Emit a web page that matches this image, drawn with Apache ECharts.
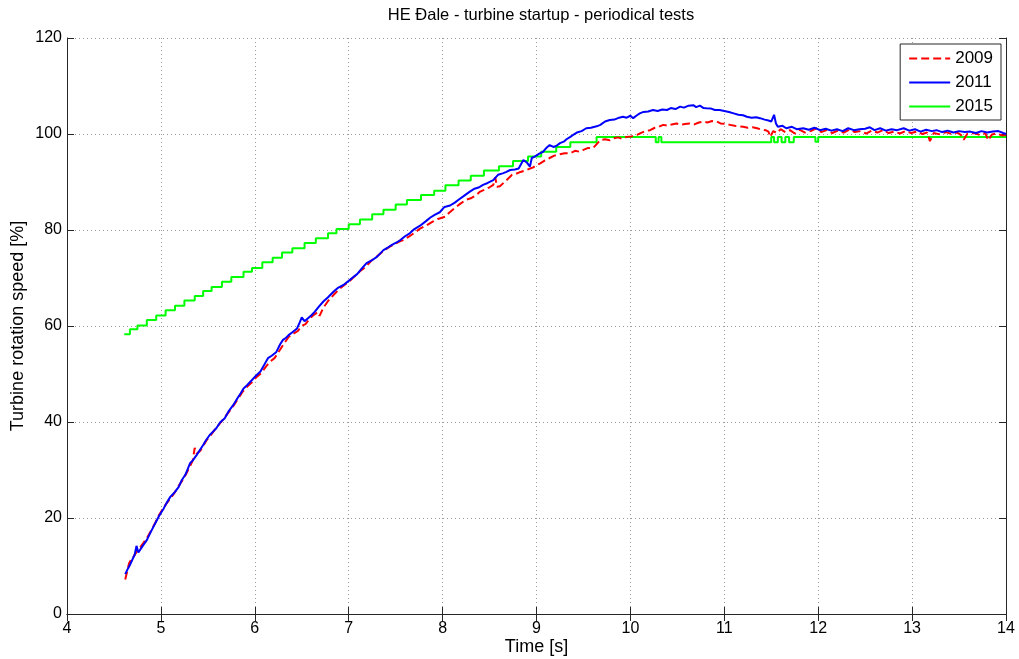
<!DOCTYPE html>
<html>
<head>
<meta charset="utf-8">
<script src="https://cdn.jsdelivr.net/npm/echarts@6/dist/echarts.min.js"></script>
<style>
html,body{margin:0;padding:0;background:#fff;}
#chart{width:1019px;height:659px;}
</style>
</head>
<body>
<div id="chart"></div>
<script>
const titleText = 'HE Đale - turbine startup - periodical tests';
const xName = 'Time [s]';
const yName = 'Turbine rotation speed [%]';
const seriesNames = ['2009', '2011', '2015'];

// 2009 test (red dashed): [time s, speed %]
const data2009 = [
[4.62,7.2],[4.64,8.8],[4.66,10.5],[4.68,11.2],[4.71,12.0],[4.75,13.2],[4.78,13.9],[4.81,14.7],[4.85,15.8],[4.89,17.2],
[4.94,19.0],[4.98,20.6],[5.03,22.2],[5.07,23.3],[5.11,24.3],[5.15,25.4],[5.19,26.7],[5.23,27.9],[5.27,29.2],[5.31,30.8],
[5.34,32.0],[5.36,34.6],[5.38,33.4],[5.42,34.0],[5.45,35.0],[5.49,36.3],[5.53,37.2],[5.57,38.3],[5.62,39.5],[5.67,40.7],
[5.72,42.0],[5.77,43.3],[5.82,44.8],[5.87,46.3],[5.92,47.4],[5.97,48.3],[6.02,49.4],[6.07,50.2],[6.12,51.6],[6.17,52.7],
[6.21,53.3],[6.23,53.0],[6.26,54.8],[6.31,56.3],[6.36,57.7],[6.41,58.4],[6.46,59.0],[6.50,60.0],[6.54,60.4],[6.58,61.4],
[6.62,62.2],[6.67,62.9],[6.69,62.1],[6.73,63.8],[6.78,65.2],[6.84,66.5],[6.90,67.7],[6.95,68.5],[7.00,69.2],[7.06,70.3],
[7.12,71.4],[7.18,72.3],[7.24,73.6],[7.30,74.5],[7.36,75.5],[7.42,76.3],[7.48,77.0],[7.54,77.6],[7.58,77.9],[7.64,78.6],
[7.70,79.4],[7.76,80.3],[7.83,81.0],[7.89,81.7],[7.95,82.3],[8.03,82.8],[8.07,83.6],[8.13,84.6],[8.19,85.5],[8.25,86.3],
[8.30,86.6],[8.36,87.3],[8.40,88.0],[8.45,88.4],[8.50,88.9],[8.54,89.4],[8.56,91.0],[8.58,89.0],[8.61,89.1],[8.67,90.2],
[8.74,91.5],[8.78,91.7],[8.83,92.1],[8.88,92.4],[8.93,92.8],[8.96,93.0],[9.00,93.5],[9.04,93.9],[9.09,94.5],[9.14,95.0],
[9.19,95.5],[9.25,95.8],[9.30,96.0],[9.36,96.0],[9.41,96.5],[9.46,96.3],[9.50,96.7],[9.55,97.1],[9.60,97.0],[9.62,97.4],
[9.66,98.3],[9.68,98.75],[9.73,98.9],[9.78,98.7],[9.82,99.1],[9.87,99.3],[9.91,99.0],[9.96,99.4],[10.01,99.5],[10.07,99.8],
[10.12,100.3],[10.16,100.6],[10.21,100.8],[10.26,101.3],[10.30,101.5],[10.35,101.9],[10.40,101.7],[10.44,102.0],[10.49,102.2],[10.54,101.9],
[10.58,102.1],[10.63,102.2],[10.68,102.0],[10.73,102.4],[10.78,102.6],[10.82,102.4],[10.87,102.7],[10.92,102.6],[10.96,102.2],[11.01,102.1],
[11.06,101.9],[11.11,101.7],[11.16,101.6],[11.20,101.5],[11.25,101.3],[11.30,101.4],[11.35,101.2],[11.40,100.9],[11.44,100.8],[11.47,100.5],
[11.49,99.4],[11.52,100.6],[11.56,100.2],[11.60,101.0],[11.65,100.4],[11.70,100.8],[11.75,100.1],[11.80,100.9],[11.86,100.3],[11.92,100.6],
[11.98,101.2],[12.03,100.4],[12.09,100.8],[12.15,100.2],[12.21,100.7],[12.27,100.3],[12.33,100.9],[12.39,100.4],[12.45,100.6],[12.51,100.1],
[12.57,100.7],[12.63,100.3],[12.69,100.8],[12.75,100.2],[12.81,100.5],[12.87,100.1],[12.93,100.6],[12.99,100.2],[13.05,100.5],[13.11,100.0],
[13.16,100.3],[13.19,98.5],[13.23,100.2],[13.30,99.9],[13.36,100.4],[13.42,100.0],[13.48,100.3],[13.52,99.8],[13.55,98.8],[13.59,100.1],
[13.66,100.2],[13.72,99.8],[13.78,100.2],[13.81,98.7],[13.85,99.9],[13.90,100.1],[13.96,99.7],[14.00,99.8]
];

// 2011 test (blue solid)
const data2011 = [
[4.62,8.3],[4.65,9.5],[4.67,10.2],[4.70,11.5],[4.72,12.3],[4.74,14.2],[4.76,12.8],[4.78,13.2],[4.81,14.3],[4.85,15.4],
[4.89,17.0],[4.94,18.9],[4.98,20.4],[5.03,22.0],[5.06,23.1],[5.10,24.4],[5.14,25.2],[5.19,26.5],[5.22,27.8],[5.26,29.0],
[5.31,31.4],[5.34,32.0],[5.38,33.1],[5.41,34.0],[5.45,35.2],[5.48,36.2],[5.52,37.3],[5.55,37.9],[5.59,38.7],[5.63,39.9],
[5.68,40.8],[5.72,42.2],[5.77,43.5],[5.82,45.1],[5.85,46.0],[5.88,47.0],[5.92,47.7],[5.97,48.75],[6.01,49.6],[6.06,50.5],
[6.10,51.9],[6.14,53.3],[6.18,53.8],[6.23,54.6],[6.27,56.2],[6.30,57.1],[6.33,57.5],[6.36,58.1],[6.40,58.7],[6.45,59.5],
[6.48,60.8],[6.50,61.8],[6.53,61.0],[6.55,61.25],[6.60,62.2],[6.64,63.0],[6.68,64.0],[6.73,65.1],[6.78,66.0],[6.84,67.2],
[6.89,68.0],[6.94,68.5],[7.00,69.4],[7.05,70.2],[7.09,70.8],[7.14,72.0],[7.19,73.1],[7.24,73.6],[7.30,74.4],[7.37,75.8],
[7.42,76.4],[7.46,76.9],[7.51,77.4],[7.55,77.9],[7.60,78.7],[7.65,79.3],[7.70,80.2],[7.76,80.9],[7.82,81.8],[7.87,82.6],
[7.92,83.2],[7.97,83.7],[8.02,84.8],[8.08,85.1],[8.13,85.7],[8.17,86.3],[8.22,87.0],[8.29,88.0],[8.34,88.6],[8.39,88.9],
[8.43,89.4],[8.48,89.8],[8.54,90.4],[8.59,91.5],[8.64,91.8],[8.68,92.1],[8.72,92.5],[8.77,92.6],[8.81,92.8],[8.86,94.6],
[8.90,94.0],[8.93,93.2],[8.95,95.0],[8.98,95.3],[9.03,95.9],[9.07,96.3],[9.11,97.2],[9.14,97.7],[9.18,97.3],[9.21,97.5],
[9.25,98.1],[9.29,98.4],[9.32,98.9],[9.36,99.4],[9.39,99.8],[9.43,100.3],[9.48,100.6],[9.53,101.2],[9.58,101.3],[9.64,101.6],
[9.68,101.9],[9.73,102.6],[9.78,102.9],[9.83,103.0],[9.88,103.4],[9.92,103.6],[9.96,103.4],[10.00,103.8],[10.03,103.3],[10.07,103.9],
[10.10,104.3],[10.14,104.6],[10.19,104.7],[10.24,105.0],[10.29,104.8],[10.34,105.1],[10.39,105.0],[10.43,105.4],[10.48,105.2],[10.53,105.7],
[10.57,105.5],[10.62,105.9],[10.67,106.0],[10.70,105.6],[10.74,105.9],[10.78,105.4],[10.81,105.35],[10.86,105.3],[10.90,105.0],[10.95,105.0],
[11.00,104.8],[11.05,104.6],[11.10,104.3],[11.15,104.0],[11.20,103.9],[11.24,103.6],[11.29,103.4],[11.34,103.5],[11.38,103.3],[11.43,103.0],
[11.47,102.8],[11.50,102.6],[11.53,104.0],[11.55,102.2],[11.57,101.5],[11.62,101.7],[11.66,101.2],[11.72,101.5],[11.77,101.0],[11.84,101.2],
[11.90,100.9],[11.96,101.3],[12.02,100.8],[12.08,101.1],[12.14,100.7],[12.20,101.0],[12.26,100.6],[12.32,101.2],[12.38,100.8],[12.44,101.0],
[12.50,101.1],[12.55,101.4],[12.60,100.8],[12.66,101.2],[12.72,100.7],[12.78,101.0],[12.84,100.8],[12.91,101.2],[12.97,100.7],[13.03,101.0],
[13.09,100.5],[13.15,100.9],[13.21,100.6],[13.26,100.8],[13.32,100.4],[13.38,100.7],[13.44,100.3],[13.50,100.6],[13.56,100.4],[13.62,100.5],
[13.68,100.2],[13.74,100.6],[13.80,100.3],[13.86,100.5],[13.92,100.6],[13.97,100.2],[14.00,100.0]
];

// 2015 test (green, stepped): [step start time s, speed %]
const data2015 = [
[4.61,58.3],[4.67,59.3],[4.75,60.1],[4.85,61.25],[4.95,62.2],[5.05,63.3],[5.15,64.2],[5.25,65.3],[5.36,66.25],[5.45,67.3],
[5.54,68.1],[5.65,69.2],[5.75,70.2],[5.88,71.3],[5.97,72.1],[6.08,73.3],[6.19,74.2],[6.29,75.3],[6.40,76.2],[6.53,77.3],
[6.65,78.3],[6.78,79.3],[6.87,80.2],[7.00,81.2],[7.12,82.2],[7.25,83.3],[7.37,84.2],[7.50,85.3],[7.62,86.25],[7.77,87.3],
[7.91,88.2],[8.03,89.3],[8.17,90.3],[8.30,91.3],[8.44,92.4],[8.60,93.3],[8.75,94.4],[8.91,95.3],[9.05,96.3],[9.21,97.3],
[9.36,98.3],[9.64,99.35],[10.27,98.3],[10.30,99.35],[10.33,98.3],[11.50,99.35],[11.53,98.3],[11.57,99.35],[11.61,98.3],[11.65,99.35],
[11.69,98.3],[11.74,99.35],[11.97,98.4],[12.00,99.35],[14.00,99.35]
];

const xTicks = {min: 4, max: 14, step: 1};
const yTicks = {min: 0, max: 120, step: 20};

const FONT = 'Liberation Sans, Arial, Helvetica, sans-serif';
const AX = '#262626';
const chart = echarts.init(document.getElementById('chart'), null, {renderer: 'canvas'});

const baseAxis = {
  type: 'value',
  axisLine: {show: true, lineStyle: {color: AX, width: 1}},
  axisTick: {show: true, inside: true, length: 7, lineStyle: {color: AX}},
  axisLabel: {show: true, color: '#000', fontSize: 16, fontFamily: FONT},
  splitLine: {show: false},
  nameMoveOverlap: false,
  nameTextStyle: {color: '#000', fontSize: 18, fontFamily: FONT}
};

chart.setOption({
  animation: false,
  backgroundColor: '#fff',
  title: {
    text: titleText,
    left: 536, top: 2, textAlign: 'center',
    textStyle: {fontSize: 16.5, fontWeight: 'normal', color: '#000', fontFamily: FONT}
  },
  grid: {left: 67, right: 13, top: 38, bottom: 45, containLabel: false, outerBoundsMode: 'none'},
  legend: {
    orient: 'vertical', right: 18, top: 44,
    data: seriesNames,
    itemWidth: 41, itemHeight: 14, itemGap: 7,
    padding: [6, 8, 5, 8],
    backgroundColor: '#fff', borderColor: AX, borderWidth: 1,
    itemStyle: {opacity: 0, color: 'rgba(0,0,0,0)', borderWidth: 0},
    textStyle: {fontSize: 17, color: '#000', fontFamily: FONT}
  },
  xAxis: [
    Object.assign({}, baseAxis, {
      position: 'bottom', min: xTicks.min, max: xTicks.max, interval: xTicks.step,
      name: xName, nameLocation: 'middle', nameGap: 24,
      axisLabel: Object.assign({}, baseAxis.axisLabel, {margin: 7}),
      splitLine: {show: true, lineStyle: {color: '#9a9a9a', type: [1, 3], width: 1}}
    }),
    Object.assign({}, baseAxis, {
      position: 'top', min: xTicks.min, max: xTicks.max, interval: xTicks.step,
      axisLabel: {show: false}
    })
  ],
  yAxis: [
    Object.assign({}, baseAxis, {
      position: 'left', min: yTicks.min, max: yTicks.max, interval: yTicks.step,
      name: yName, nameLocation: 'middle', nameGap: 40,
      axisLabel: Object.assign({}, baseAxis.axisLabel, {margin: 5}),
      splitLine: {show: true, lineStyle: {color: '#9a9a9a', type: [1, 3], width: 1}}
    }),
    Object.assign({}, baseAxis, {
      position: 'right', min: yTicks.min, max: yTicks.max, interval: yTicks.step,
      axisLabel: {show: false}
    })
  ],
  series: [
    {
      name: seriesNames[0], type: 'line', data: data2009, symbol: 'none',
      lineStyle: {color: '#ff0000', width: 2, type: [8, 4]}, itemStyle: {color: '#ff0000'}, z: 3
    },
    {
      name: seriesNames[1], type: 'line', data: data2011, symbol: 'none',
      lineStyle: {color: '#0000ff', width: 2}, itemStyle: {color: '#0000ff'}, z: 4
    },
    {
      name: seriesNames[2], type: 'line', data: data2015, symbol: 'none', step: 'end',
      lineStyle: {color: '#00ff00', width: 2}, itemStyle: {color: '#00ff00'}, z: 2
    }
  ]
});
</script>
</body>
</html>
